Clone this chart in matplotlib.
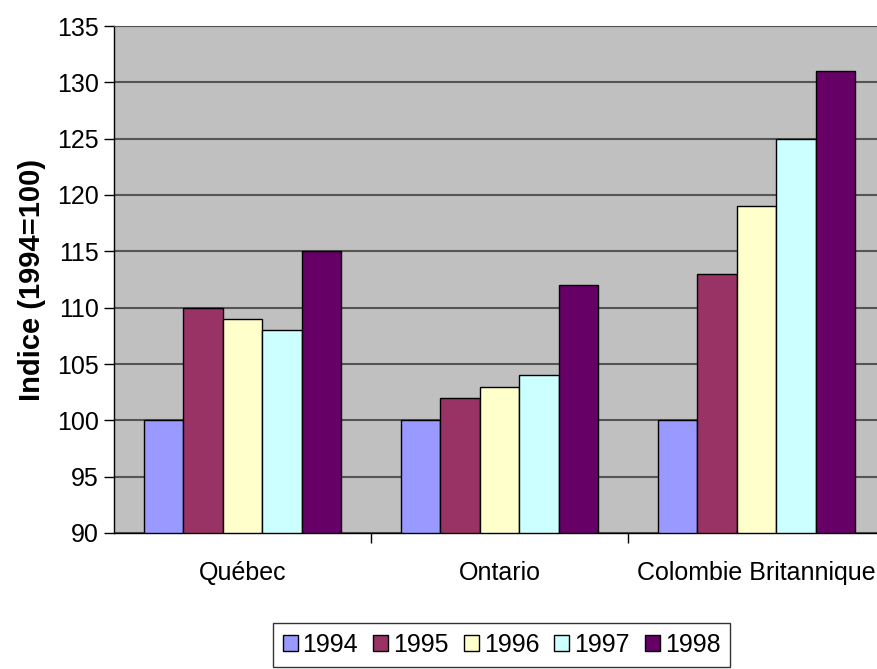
import matplotlib.pyplot as plt
import numpy as np
from matplotlib.patches import Patch

plt.rcParams['font.family'] = ['Liberation Sans', 'DejaVu Sans']

regions = ["Québec", "Ontario", "Colombie Britannique"]
years = ["1994", "1995", "1996", "1997", "1998"]
values = {
    "1994": [100, 100, 100],
    "1995": [110, 102, 113],
    "1996": [109, 103, 119],
    "1997": [108, 104, 125],
    "1998": [115, 112, 131],
}
colors = ["#9999FF", "#993366", "#FFFFCC", "#CCFFFF", "#660066"]

W, H = 878, 669
fig = plt.figure(figsize=(W/100, H/100), dpi=100)
# plot area runs past the right edge like in the original
ax = fig.add_axes([114/W, 1-533/H, (885-114)/W, (533-26)/H])
ax.set_facecolor("#C0C0C0")

x = np.arange(len(regions))
bw = 0.77/5
for i, y in enumerate(years):
    ax.bar(x - 0.385 + bw*(i+0.5), np.array(values[y]) - 90, bw, bottom=90,
           color=colors[i], edgecolor="black", linewidth=1, zorder=3)

ax.set_xlim(-0.5, 2.5)
ax.set_ylim(90, 135)
ax.set_yticks(range(90, 136, 5))
ax.yaxis.grid(True, color="#555555", linewidth=1.5, zorder=0)
ax.set_xticks([0.5, 1.5], minor=False)
ax.set_xticklabels([])
ax.set_xticks(x, minor=True)
ax.set_xticklabels(regions, minor=True, fontsize=18)
ax.tick_params(axis="x", which="minor", length=0, pad=20)
ax.tick_params(axis="x", which="major", length=7, direction="out", width=1)
ax.tick_params(axis="y", length=7, direction="out", width=1, labelsize=18, pad=4)
ax.spines["right"].set_visible(False)
ax.spines["top"].set_color("#555555")
ax.spines["left"].set_linewidth(1)
ax.spines["bottom"].set_linewidth(1)
ax.set_ylabel("Indice (1994=100)", fontsize=21, fontweight="bold", labelpad=8)

handles = [Patch(facecolor=c, edgecolor="black", label=y) for c, y in zip(colors, years)]
leg = fig.legend(handles=handles, loc="upper center", ncol=5,
                 bbox_to_anchor=(501.5/W, 1-623/H), fontsize=18, frameon=True,
                 fancybox=False, edgecolor="black", handlelength=0.6, handleheight=0.6,
                 handletextpad=0.2, columnspacing=0.6, borderpad=0.4, borderaxespad=0)
leg.get_frame().set_linewidth(1)

fig.savefig("out.png", dpi=100)
